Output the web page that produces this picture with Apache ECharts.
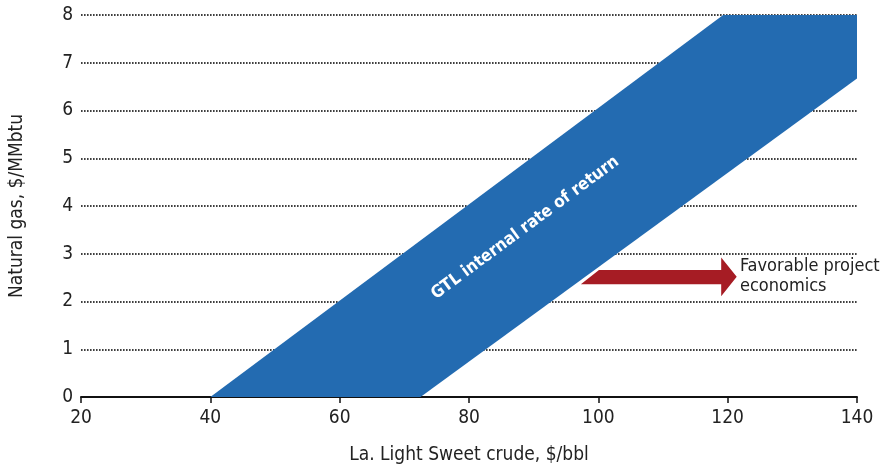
<!DOCTYPE html>
<html>
<head>
<meta charset="utf-8">
<script src="https://cdn.jsdelivr.net/npm/echarts@6/dist/echarts.min.js"></script>
<style>
  html, body { margin: 0; padding: 0; background: #fff; }
  #chart { width: 887px; height: 467px; }
</style>
</head>
<body>
<div id="chart"></div>
<script>
// Axis ranges and ticks
const xTicks = [20, 40, 60, 80, 100, 120, 140];
const yTicks = [0, 1, 2, 3, 4, 5, 6, 7, 8];

// GTL return band outline: crude price ($/bbl) vs gas price ($/MMbtu)
const bandX = [40, 119.3, 140, 140, 72.5];
const bandY = [0, 8, 8, 6.67, 0];

// "Favorable project economics" arrow outline
const arrowX = [97.3, 100.1, 119, 119, 121.4, 119, 119];
const arrowY = [2.36, 2.66, 2.66, 2.92, 2.52, 2.11, 2.36];

// Annotation text and anchor points
const bandLabel = 'GTL internal rate of return';
const bandLabelAt = [88.7, 3.54];
const arrowLabel = ['Favorable project', 'economics'];
const arrowLabelAt = [121.9, 2.53];

const FONT = "'DejaVu Sans Condensed', 'Liberation Sans', sans-serif";

function polygonSeries(xs, ys, color) {
  return {
    type: 'custom',
    coordinateSystem: 'cartesian2d',
    data: [[xs[0], ys[0]]],
    silent: true,
    z: 3,
    renderItem: function (params, api) {
      const pts = xs.map((x, i) => api.coord([x, ys[i]]));
      return {
        type: 'polygon',
        shape: { points: pts },
        style: { fill: color, stroke: null }
      };
    }
  };
}

const chart = echarts.init(document.getElementById('chart'), null, { renderer: 'canvas' });

chart.setOption({
  backgroundColor: '#fff',
  animation: false,
  grid: { left: 81, right: 30, top: 15, bottom: 70, containLabel: false, outerBoundsMode: 'none' },
  xAxis: {
    type: 'value',
    min: xTicks[0],
    max: xTicks[xTicks.length - 1],
    interval: 20,
    name: 'La. Light Sweet crude, $/bbl',
    nameLocation: 'middle',
    nameGap: 49,
    nameTextStyle: { fontFamily: FONT, fontSize: 19, color: '#222' },
    axisLine: { show: true, onZero: false, lineStyle: { color: '#111', width: 2 } },
    axisTick: { show: true, length: 6, lineStyle: { color: '#111', width: 1.5 } },
    axisLabel: { fontFamily: FONT, fontSize: 19, color: '#222', margin: 12 },
    splitLine: { show: false }
  },
  yAxis: {
    type: 'value',
    min: yTicks[0],
    max: yTicks[yTicks.length - 1],
    interval: 1,
    name: 'Natural gas, $/MMbtu',
    nameLocation: 'middle',
    nameGap: 54,
    nameRotate: 90,
    nameTextStyle: { fontFamily: FONT, fontSize: 19, color: '#222' },
    axisLine: { show: false },
    axisTick: { show: false },
    axisLabel: { fontFamily: FONT, fontSize: 19, color: '#222', margin: 8 },
    splitLine: {
      show: true,
      lineStyle: { color: '#000', width: 1.6, type: [1.6, 1.4] }
    }
  },
  series: [
    polygonSeries(bandX, bandY, '#236bb1'),
    polygonSeries(arrowX, arrowY, '#a61c24'),
    {
      type: 'custom',
      coordinateSystem: 'cartesian2d',
      data: [bandLabelAt],
      silent: true,
      z: 4,
      renderItem: function (params, api) {
        const p = api.coord(bandLabelAt);
        return {
          type: 'text',
          x: p[0], y: p[1],
          rotation: 36.5 * Math.PI / 180,
          style: {
            text: bandLabel,
            fill: '#fff',
            font: "bold 17px " + FONT,
            align: 'center',
            verticalAlign: 'middle'
          }
        };
      }
    },
    {
      type: 'custom',
      coordinateSystem: 'cartesian2d',
      data: [arrowLabelAt],
      silent: true,
      z: 4,
      renderItem: function (params, api) {
        const p = api.coord(arrowLabelAt);
        return {
          type: 'text',
          x: p[0], y: p[1],
          style: {
            text: arrowLabel.join('\n'),
            fill: '#222',
            font: "18px " + FONT,
            lineHeight: 20,
            align: 'left',
            verticalAlign: 'middle'
          }
        };
      }
    }
  ]
});
</script>
</body>
</html>
